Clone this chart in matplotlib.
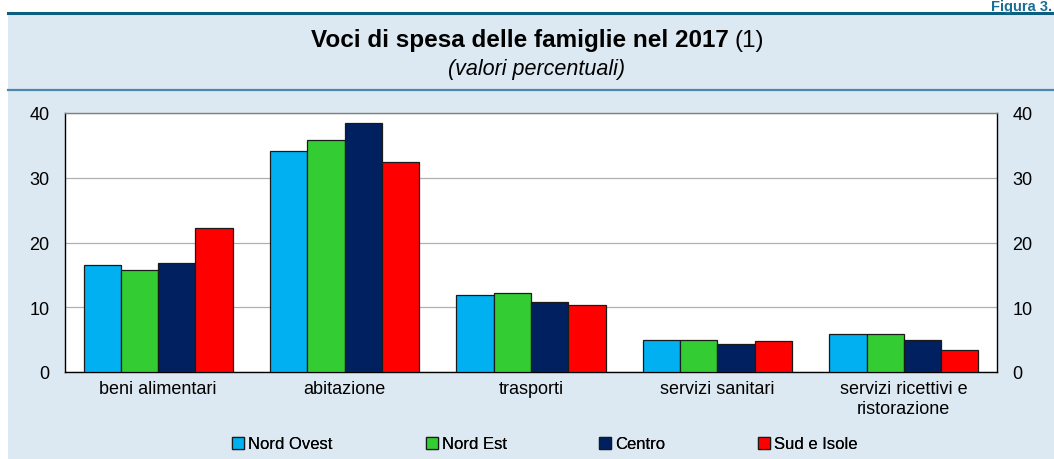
import matplotlib.pyplot as plt
import matplotlib.patches as mpatches
import numpy as np

plt.rcParams['font.family'] = ['Liberation Sans', 'DejaVu Sans']

categories = ['beni alimentari', 'abitazione', 'trasporti', 'servizi sanitari',
              'servizi ricettivi e\nristorazione']
series_names = ['Nord Ovest', 'Nord Est', 'Centro', 'Sud e Isole']
nord_ovest = [16.5, 34.2, 11.9, 4.9, 5.9]
nord_est = [15.7, 35.8, 12.2, 4.9, 5.8]
centro = [16.8, 38.5, 10.8, 4.4, 5.0]
sud_isole = [22.2, 32.5, 10.3, 4.8, 3.4]
colors = ['#00b0f0', '#33cc33', '#002060', '#ff0000']
yticks = [0, 10, 20, 30, 40]

W, H = 1054, 460
fig = plt.figure(figsize=(W / 100, H / 100), dpi=100)
fig.patch.set_facecolor('white')

def fx(px):
    return px / W

def fy(py):
    return 1 - py / H

# light blue panel with the two teal rules
fig.patches.append(mpatches.Rectangle((fx(8), 0), 1 - fx(8), fy(14), transform=fig.transFigure,
                                      facecolor='#dce9f2', edgecolor='none', zorder=0))
fig.add_artist(plt.Line2D([fx(8), 1], [fy(14), fy(14)], color='#0d5f80', lw=2.2))
fig.add_artist(plt.Line2D([fx(8), 1], [fy(91), fy(91)], color='#4a8aa8', lw=1.6))

fig.text(fx(1052), fy(0), 'Figura 3.', ha='right', va='top', fontsize=10.5,
         fontweight='bold', color='#1a6e94')

# title: bold part + normal "(1)"
t1 = fig.text(fx(311), fy(47), 'Voci di spesa delle famiglie nel 2017', ha='left',
              va='baseline', fontsize=17.5, fontweight='bold')
fig.canvas.draw()
bb = t1.get_window_extent()
fig.text(fx(bb.x1 + 6), fy(47), '(1)', ha='left', va='baseline', fontsize=17.5)
fig.text(fx(537), fy(75), '(valori percentuali)', ha='center', va='baseline',
         fontsize=15.5, style='italic')

ax = fig.add_axes([fx(65), fy(373), fx(997) - fx(65), fy(114) - fy(373)])
ax.set_facecolor('white')
ax.set_zorder(5)

x = np.arange(len(categories))
width = 0.2
data = [nord_ovest, nord_est, centro, sud_isole]
bars = []
for i, (vals, name, c) in enumerate(zip(data, series_names, colors)):
    b = ax.bar(x + (i - 1.5) * width, vals, width, color=c, edgecolor='#1a1a1a',
               linewidth=0.9, label=name, zorder=3)
    bars.append(b)

ax.set_xlim(-0.5, len(categories) - 0.5)
ax.set_ylim(0, 40)
ax.set_yticks(yticks)
ax.set_yticklabels([str(v) for v in yticks], fontsize=13)
ax.yaxis.grid(True, color='#b0b0b0', lw=0.9, zorder=0)
ax.set_xticks(x)
ax.set_xticklabels(categories, fontsize=13, linespacing=1.2)
ax.tick_params(axis='x', length=0, pad=6)
ax.tick_params(axis='y', length=0, pad=11, labelright=True)
for side in ['left', 'bottom', 'right']:
    ax.spines[side].set_color('black')
    ax.spines[side].set_linewidth(1.0)
ax.spines['top'].set_color('#808080')
ax.spines['top'].set_linewidth(1.0)

# legend entries placed individually as in the reference
legend_x = [232, 426, 599, 758]
for b, lx in zip(bars, legend_x):
    leg = fig.legend(handles=[b], loc='center left', bbox_to_anchor=(fx(lx), fy(445)),
                     frameon=False, fontsize=12, handlelength=0.7, handleheight=0.7,
                     handletextpad=0.25, borderpad=0, borderaxespad=0)
    fig.add_artist(leg)

fig.savefig('out.png', dpi=100)
